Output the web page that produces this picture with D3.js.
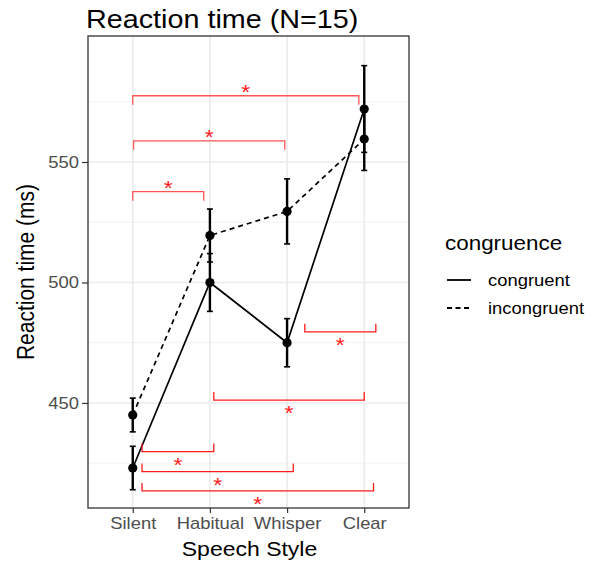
<!DOCTYPE html>
<meta charset="utf-8">
<style>
body { margin: 0; background: #fff; }
text { font-family: "Liberation Sans", Arial, sans-serif; }
</style>
<body>
<script src="https://cdn.jsdelivr.net/npm/d3@7"></script>
<script>
// speech styles on the x axis
var styles = ["Silent", "Habitual", "Whisper", "Clear"];
var yTicks = [450, 500, 550];

// mean reaction time and error (ms)
var congruentMean = [423, 500, 475, 572];
var congruentErr = [9, 12, 10, 18];
var incongruentMean = [445, 519.5, 529.5, 559.5];
var incongruentErr = [7, 11, 13.5, 13];

// significance brackets: from / to in category units, level in ms, side of the star
var bracketFrom = [0, 0.01, 0, 2.23, 1.05, 0.12, 0.12, 0.12];
var bracketTo = [2.93, 1.97, 0.92, 3.15, 3.0, 1.05, 2.08, 3.12];
var bracketLevel = [577.5, 558.8, 537.7, 479.5, 451.2, 429.8, 421.5, 413.5];
var bracketSide = ["up", "up", "up", "down", "down", "down", "down", "down"];

var width = 595, height = 562;
var pLeft = 88, pRight = 409, pTop = 36, pBottom = 508;
var stretch = 1.15; // the picture is a little wider than tall

var svg = d3.select("body").append("svg")
    .attr("width", width)
    .attr("height", height);

var x = d3.scalePoint()
    .domain(styles)
    .range([pLeft, pRight])
    .padding(0.58);

var y = d3.scaleLinear()
    .domain([406.4, 602.3])
    .range([pBottom, pTop]);

function xu(u) { return x(styles[0]) + u * x.step(); }

// text placed at (tx, ty), widened around its anchor
function label(g, tx, ty, size, str, anchor) {
  return g.append("text")
      .attr("transform", "translate(" + tx + "," + ty + ") scale(" + stretch + ",1)")
      .attr("text-anchor", anchor || "start")
      .style("font-size", size + "px")
      .text(str);
}

// grid
var grid = svg.append("g");
[425, 475, 525, 575].forEach(function(v) {
  grid.append("line").attr("x1", pLeft).attr("x2", pRight)
      .attr("y1", y(v)).attr("y2", y(v))
      .attr("stroke", "#f2f2f2").attr("stroke-width", 1);
});
yTicks.forEach(function(v) {
  grid.append("line").attr("x1", pLeft).attr("x2", pRight)
      .attr("y1", y(v)).attr("y2", y(v))
      .attr("stroke", "#ebebeb").attr("stroke-width", 1.6);
});
styles.forEach(function(s) {
  grid.append("line").attr("y1", pTop).attr("y2", pBottom)
      .attr("x1", x(s)).attr("x2", x(s))
      .attr("stroke", "#ebebeb").attr("stroke-width", 1.6);
});

// axes
var yAxis = svg.append("g")
    .attr("transform", "translate(" + pLeft + ",0)")
    .call(d3.axisLeft(y).tickValues(yTicks).tickSize(6).tickPadding(3));
var xAxis = svg.append("g")
    .attr("transform", "translate(0," + pBottom + ")")
    .call(d3.axisBottom(x).tickSize(5).tickPadding(5));
[yAxis, xAxis].forEach(function(a) {
  a.select(".domain").remove();
  a.selectAll("line").attr("stroke", "#333").attr("stroke-width", 1.2);
  a.selectAll("text").attr("fill", "#4d4d4d")
      .style("font-size", "16px").style("font-family", "'Liberation Sans', Arial, sans-serif");
});
xAxis.selectAll(".tick text").attr("transform", "scale(" + stretch + ",1)");
yAxis.selectAll(".tick text").attr("x", -9 / stretch).attr("transform", "scale(" + stretch + ",1)");

// lines
var series = [
  {mean: congruentMean, err: congruentErr, dash: null},
  {mean: incongruentMean, err: incongruentErr, dash: "5,4"}
];
var line = d3.line()
    .x(function(d, i) { return x(styles[i]); })
    .y(function(d) { return y(d); });

series.forEach(function(s) {
  svg.append("path")
      .attr("d", line(s.mean))
      .attr("fill", "none")
      .attr("stroke", "#000")
      .attr("stroke-width", 1.7)
      .attr("stroke-dasharray", s.dash);
});

series.forEach(function(s) {
  var g = svg.append("g");
  s.mean.forEach(function(m, i) {
    var cx = x(styles[i]);
    g.append("line").attr("x1", cx).attr("x2", cx)
        .attr("y1", y(m - s.err[i])).attr("y2", y(m + s.err[i]))
        .attr("stroke", "#000").attr("stroke-width", 2.4);
    [m - s.err[i], m + s.err[i]].forEach(function(v) {
      g.append("line").attr("x1", cx - 3).attr("x2", cx + 3)
          .attr("y1", y(v)).attr("y2", y(v))
          .attr("stroke", "#000").attr("stroke-width", 1.6);
    });
    g.append("circle").attr("cx", cx).attr("cy", y(m)).attr("r", 4.6).attr("fill", "#000");
  });
});

// significance brackets
var br = svg.append("g");
bracketFrom.forEach(function(f, i) {
  var x1 = xu(f), x2 = xu(bracketTo[i]), yy = y(bracketLevel[i]);
  var up = bracketSide[i] == "up";
  var t = up ? 9 : -8;
  br.append("path")
      .attr("d", "M" + x1 + "," + (yy + t) + "V" + yy + "H" + x2 + "V" + (yy + t))
      .attr("fill", "none")
      .attr("stroke", up ? "#ff5555" : "#ff1a1a")
      .attr("stroke-width", 1.3);
  label(br, (x1 + x2) / 2, up ? yy + 3 : yy + 20, 20, "*", "middle")
      .attr("fill", "#ff1a1a");
});

// panel border
svg.append("rect")
    .attr("x", pLeft).attr("y", pTop)
    .attr("width", pRight - pLeft).attr("height", pBottom - pTop)
    .attr("fill", "none").attr("stroke", "#333").attr("stroke-width", 1.3);

// titles
label(svg, 86, 28, 25, "Reaction time (N=15)");

svg.append("text")
    .attr("transform", "translate(34," + ((pTop + pBottom) / 2) + ") rotate(-90) scale(1," + stretch + ")")
    .attr("text-anchor", "middle")
    .style("font-size", "21px")
    .text("Reaction time (ms)");

label(svg, (pLeft + pRight) / 2 + 1, 556, 20, "Speech Style", "middle");

// legend
var legend = svg.append("g");
label(legend, 445, 250, 19.5, "congruence");
var legendNames = ["congruent", "incongruent"];
var legendDash = [null, "5,3.5"];
legendNames.forEach(function(n, i) {
  var ly = 280 + i * 28;
  legend.append("line")
      .attr("x1", 447).attr("x2", 471).attr("y1", ly).attr("y2", ly)
      .attr("stroke", "#000").attr("stroke-width", 1.8)
      .attr("stroke-dasharray", legendDash[i]);
  label(legend, 488, ly + 6, 16, n);
});
</script>
